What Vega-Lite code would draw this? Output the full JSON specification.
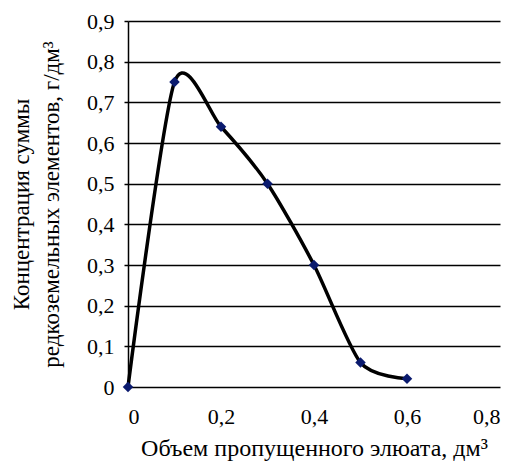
{
  "$schema": "https://vega.github.io/schema/vega-lite/v6.json",
  "width": 372,
  "height": 366,
  "autosize": {"type": "none"},
  "padding": {"left": 128, "top": 21, "right": 18, "bottom": 76},
  "background": "white",
  "config": {
    "font": "'Liberation Serif'",
    "view": {"stroke": null},
    "axis": {"labelFont": "'Liberation Serif'", "labelFontSize": 22, "labelColor": "black", "titleFont": "'Liberation Serif'"}
  },
  "data": {
    "values": [
      {"x": 0, "y": 0},
      {"x": 0.1, "y": 0.75},
      {"x": 0.2, "y": 0.64},
      {"x": 0.3, "y": 0.5},
      {"x": 0.4, "y": 0.3},
      {"x": 0.5, "y": 0.06},
      {"x": 0.6, "y": 0.02}
    ]
  },
  "encoding": {
    "x": {
      "field": "x", "type": "quantitative",
      "scale": {"domain": [0, 0.8], "nice": false, "zero": false},
      "axis": {
        "values": [0, 0.2, 0.4, 0.6, 0.8],
        "labelExpr": "replace(format(datum.value, '.1~f'), '.', ',')",
        "title": "Объем пропущенного элюата, дм³",
        "titleFontSize": 24, "titleFontWeight": "normal", "titleColor": "black",
        "titlePadding": 9,
        "labelFontSize": 22, "labelPadding": 19,
        "grid": false, "domain": false, "ticks": false
      }
    },
    "y": {
      "field": "y", "type": "quantitative",
      "scale": {"domain": [0, 0.9], "nice": false},
      "axis": {
        "values": [0, 0.1, 0.2, 0.3, 0.4, 0.5, 0.6, 0.7, 0.8, 0.9],
        "labelExpr": "replace(format(datum.value, '.1~f'), '.', ',')",
        "title": ["Концентрация суммы", "редкоземельных элементов, г/дм³"],
        "titleFontSize": 23, "titleFontWeight": "normal", "titleColor": "black",
        "titlePadding": 23, "titleLineHeight": 30,
        "labelFontSize": 22, "labelPadding": 10,
        "grid": true, "gridColor": "black", "gridWidth": 1.5, "gridOpacity": 1,
        "domain": true, "domainColor": "black", "domainWidth": 1.5,
        "ticks": true, "tickSize": 4, "tickColor": "black", "tickWidth": 1.5
      }
    }
  },
  "layer": [
    {
      "mark": {"type": "line", "interpolate": "cardinal", "tension": 0.25, "color": "black", "strokeWidth": 3.5}
    },
    {
      "mark": {"type": "point", "shape": "diamond", "filled": true, "color": "#0a1a6e", "size": 110, "opacity": 1}
    }
  ]
}
